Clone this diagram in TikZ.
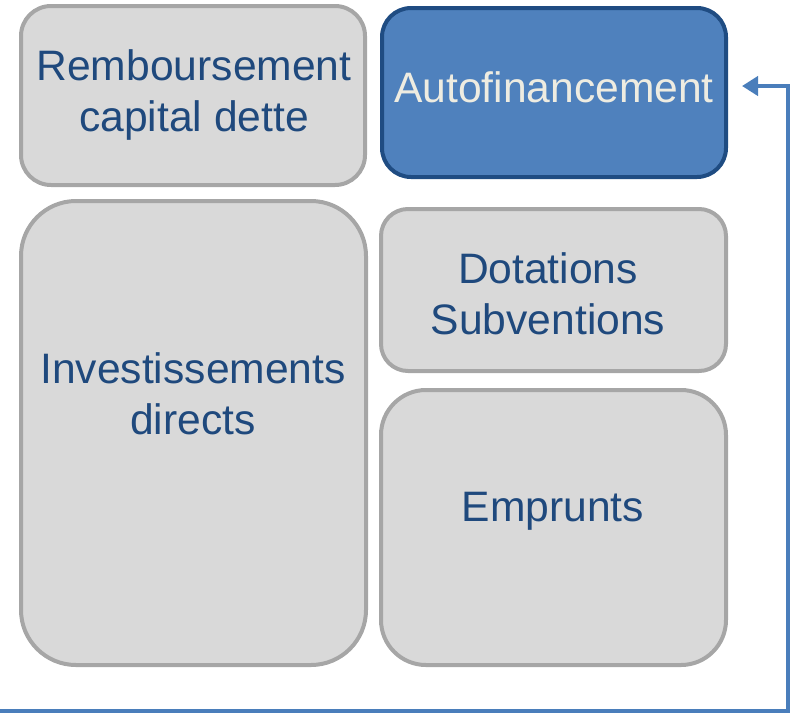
\documentclass[tikz,border=0pt]{standalone}
\usepackage{fontspec}
\setmainfont{Liberation Sans}
\usetikzlibrary{arrows.meta}
\definecolor{boxfill}{HTML}{D9D9D9}
\definecolor{boxline}{HTML}{A6A6A6}
\definecolor{txtblue}{HTML}{1F497D}
\definecolor{autofill}{HTML}{4F81BD}
\definecolor{autoline}{HTML}{1F4C82}
\definecolor{autotext}{HTML}{EEECE1}
\definecolor{arrowblue}{HTML}{4A7EBB}
\begin{document}
\begin{tikzpicture}[x=1pt,y=-1pt,
  graybox/.style={draw=boxline,fill=boxfill,line width=4pt,inner sep=0pt,rectangle},
  bluebox/.style={draw=autoline,fill=autofill,line width=4pt,inner sep=0pt,rectangle},
  lbl/.style={inner sep=0pt,align=center,text=txtblue,font=\fontsize{42.6}{51}\selectfont},
  lblw/.style={lbl,text=autotext},
  feedback/.style={draw=arrowblue,line width=4.5pt,-{Triangle[length=16pt,width=19pt]}}
]
\useasboundingbox (0,0) rectangle (798,713);
\node[graybox,rounded corners=30pt,minimum width=344pt,minimum height=179pt] (remb) at (193,95.5) {};
\node[bluebox,rounded corners=29pt,minimum width=344pt,minimum height=169pt] (auto) at (554,92.5) {};
\node[graybox,rounded corners=55pt,minimum width=345pt,minimum height=464pt] (inv) at (193.5,433) {};
\node[graybox,rounded corners=27pt,minimum width=345pt,minimum height=162pt] (dot) at (553.5,290) {};
\node[graybox,rounded corners=45pt,minimum width=345pt,minimum height=275pt] (emp) at (553.5,527.5) {};
\node[lbl] (rembt) at (194,94.5) {Remboursement\\capital dette};
\node[lblw] (autot) at (554,87) {Autofinancement};
\node[lbl] (invt) at (193,394) {Investissements\\directs};
\node[lbl] (dott) at (548,294) {Dotations\\Subventions};
\node[lbl] (empt) at (553,511) {Emprunts};
\coordinate (start) at (0,711);
\coordinate (turn) at (788,86);
\coordinate (tip) at (742,86);
\draw[feedback] (start) -| (turn) -- (tip);
\end{tikzpicture}
\end{document}
